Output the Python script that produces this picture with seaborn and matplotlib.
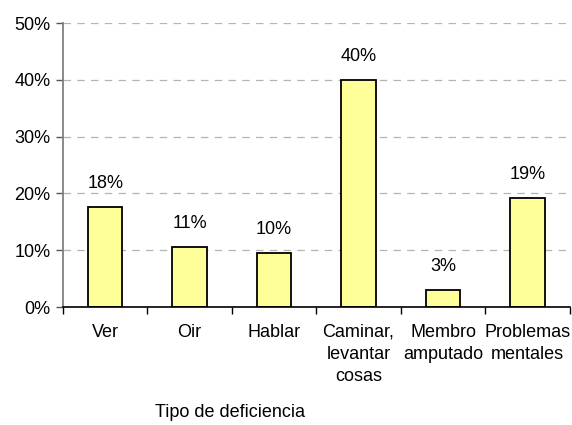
#Importations
import numpy as np
import pandas as pd
import seaborn as sns
import matplotlib.pyplot as plt
from matplotlib.ticker import FixedLocator, PercentFormatter

#Data
categorias = ["Ver", "Oir", "Hablar", "Caminar,\nlevantar\ncosas", "Membro\namputado", "Problemas\nmentales"]
porcentajes = [17.6, 10.6, 9.5, 40.0, 3.0, 19.2]
etiquetas = ["18%", "11%", "10%", "40%", "3%", "19%"]
yticks = [0, 10, 20, 30, 40, 50]

df = pd.DataFrame({"tipo": categorias, "pct": porcentajes})

#Style
sns.set_style("white")
plt.rcParams["font.family"] = ["Liberation Sans", "DejaVu Sans"]
plt.rcParams["text.color"] = "black"
plt.rcParams["xtick.labelcolor"] = "black"
plt.rcParams["ytick.labelcolor"] = "black"

fig = plt.figure(figsize=(5.72, 4.25), dpi=100)
ax = fig.add_axes([0.110, 0.2776, 0.886, 0.6682])

sns.barplot(data=df, x="tipo", y="pct", color="#FFFF99", edgecolor="black",
            linewidth=1.3, width=0.41, saturation=1, ax=ax)

ax.bar_label(ax.containers[0], labels=etiquetas, padding=11, fontsize=13, color="black")

#Axes
ax.set_ylim(0, 50)
ax.set_xlim(-0.5, len(categorias) - 0.5)
ax.set_yticks(yticks)
ax.yaxis.set_major_formatter(PercentFormatter(decimals=0))
ax.set_axisbelow(True)
ax.grid(axis="y", color="#b4b4b4", linestyle=(0, (6, 5)), linewidth=0.9)

ax.tick_params(axis="y", length=5, width=1, pad=4, labelsize=13, left=True, color="#555555")
ax.tick_params(axis="x", which="major", length=0, pad=12, labelsize=13)
for lbl in ax.get_xticklabels():
    lbl.set_linespacing(1.4)
ax.xaxis.set_minor_locator(FixedLocator(np.arange(-0.5, len(categorias), 1.0)))
ax.tick_params(axis="x", which="minor", length=5, width=1, bottom=True, color="black")

for s in ["top", "right"]:
    ax.spines[s].set_visible(False)
ax.spines["left"].set_color("#808080")
ax.spines["left"].set_linewidth(1.3)
ax.spines["bottom"].set_color("black")
ax.spines["bottom"].set_linewidth(1.2)

ax.set_ylabel("")
ax.set_xlabel("Tipo de deficiencia", fontsize=13, color="black")
ax.xaxis.set_label_coords(0.33, -0.34)

fig.savefig("out.png", dpi=100)
